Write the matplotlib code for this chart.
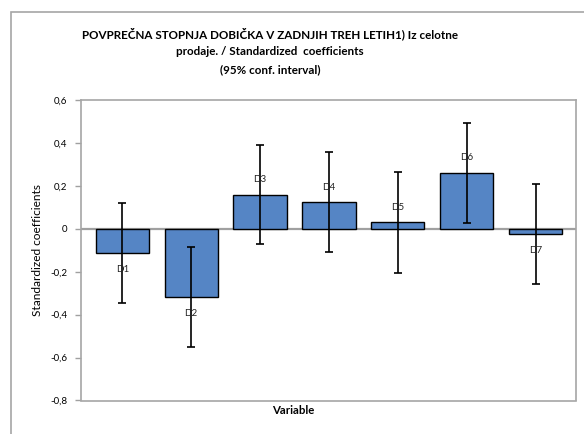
import matplotlib
matplotlib.use("Agg")
import matplotlib.pyplot as plt
import numpy as np

plt.rcParams['font.family'] = ['Lato', 'DejaVu Sans']

variables = ['D1', 'D2', 'D3', 'D4', 'D5', 'D6', 'D7']
coefs = [-0.113, -0.318, 0.158, 0.123, 0.030, 0.259, -0.025]
ci_half = [0.235, 0.232, 0.231, 0.233, 0.236, 0.233, 0.232]
yticks = [-0.8, -0.6, -0.4, -0.2, 0, 0.2, 0.4, 0.6]
ytick_labels = ['-0,8', '-0,6', '-0,4', '-0,2', '0', '0,2', '0,4', '0,6']

fig = plt.figure(figsize=(5.84, 4.34), dpi=100)

# outer chart frame (extends past the right/bottom edge)
frame = plt.Rectangle((11 / 584, -0.05), 1.0, 1 - 12 / 434 + 0.05,
                      transform=fig.transFigure, fill=False,
                      edgecolor='#a6a6a6', lw=1.2)
fig.patches.append(frame)

ax = fig.add_axes([81 / 584, 1 - 400.5 / 434, (575.5 - 81) / 584, (400.5 - 100) / 434])

x = np.arange(len(variables))
bars = ax.bar(x, coefs, width=0.775, color='#5585c5', edgecolor='black', lw=1.0, zorder=3)
ax.errorbar(x, coefs, yerr=ci_half, fmt='none', ecolor='black', elinewidth=1.2,
            capsize=3.2, capthick=1.2, zorder=4)

for xi, v, name in zip(x, coefs, variables):
    off = 11 if v >= 0 else -12
    ax.annotate(name, (xi, v), xytext=(0, off), textcoords='offset points',
                ha='center', va='center', fontsize=7, color='#222222', zorder=5)

ax.axhline(0, color='#a0a0a0', lw=1.6, zorder=2)
ax.set_xlim(-0.6, 6.58)
ax.set_ylim(-0.8, 0.6)
ax.set_xticks([])
ax.set_yticks(yticks)
ax.set_yticklabels(ytick_labels)
ax.tick_params(axis='y', length=4, width=1, color='#a0a0a0', labelsize=7, pad=6)
for s in ax.spines.values():
    s.set_color('#a6a6a6')
    s.set_linewidth(1.2)

fig.text(38 / 584, 1 - 250 / 434, 'Standardized coefficients', rotation=90,
         ha='center', va='center', fontsize=8.6)
fig.text(293 / 584, 1 - 411 / 434, 'Variable', ha='center', va='center',
         fontsize=8.2, fontweight='bold')
fig.text(270 / 584, 1 - 51 / 434,
         'POVPREČNA STOPNJA DOBIČKA V ZADNJIH TREH LETIH1) Iz celotne\n'
         'prodaje. / Standardized  coefficients\n(95% conf. interval)',
         ha='center', va='center', fontsize=8.4, fontweight='bold',
         linespacing=1.7)

fig.savefig('out.png', dpi=100)
